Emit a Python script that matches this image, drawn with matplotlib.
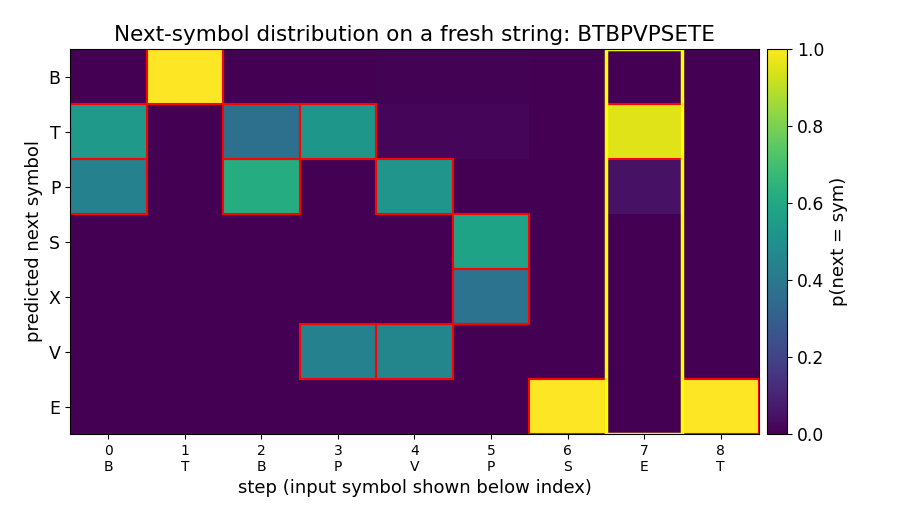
import numpy as np
import matplotlib.pyplot as plt
from matplotlib.patches import Rectangle

symbols = ['B', 'T', 'P', 'S', 'X', 'V', 'E']
inputs = ['B', 'T', 'B', 'P', 'V', 'P', 'S', 'E', 'T']
steps = np.arange(len(inputs))

# probabilidades p(next = sym), filas = simbolos, columnas = pasos
p_B = [0.00, 1.00, 0.00, 0.00, 0.005, 0.005, 0.00, 0.00, 0.00]
p_T = [0.54, 0.00, 0.37, 0.53, 0.015, 0.015, 0.00, 0.95, 0.00]
p_P = [0.44, 0.00, 0.62, 0.00, 0.52, 0.00, 0.00, 0.05, 0.00]
p_S = [0.00, 0.00, 0.00, 0.00, 0.00, 0.58, 0.00, 0.00, 0.00]
p_X = [0.00, 0.00, 0.00, 0.00, 0.00, 0.38, 0.00, 0.00, 0.00]
p_V = [0.00, 0.00, 0.00, 0.44, 0.46, 0.00, 0.00, 0.00, 0.00]
p_E = [0.00, 0.00, 0.00, 0.00, 0.00, 0.00, 1.00, 0.00, 1.00]
probs = np.array([p_B, p_T, p_P, p_S, p_X, p_V, p_E])

# siguientes simbolos legales (recuadro rojo) por paso
legal = [['T', 'P'], ['B'], ['T', 'P'], ['T', 'V'], ['P', 'V'],
         ['S', 'X'], ['E'], ['T'], ['E']]
highlight_step = 7

fig = plt.figure(figsize=(9.1, 5.2), dpi=100)
ax = fig.add_axes([70/910, 86/520, 689/910, 385/520])
cax = fig.add_axes([767/910, 86/520, 20/910, 385/520])

im = ax.imshow(probs, cmap='viridis', vmin=0, vmax=1, aspect='auto',
               interpolation='nearest')

for j, syms in enumerate(legal):
    for s in syms:
        i = symbols.index(s)
        ax.add_patch(Rectangle((j - 0.5, i - 0.5), 1, 1, fill=False,
                               edgecolor='red', linewidth=1.5))

ax.add_patch(Rectangle((highlight_step - 0.5, -0.5), 1, len(symbols),
                       fill=False, edgecolor='yellow', linewidth=2.5))

ax.set_yticks(np.arange(len(symbols)))
ax.set_yticklabels(symbols, fontsize=12.5)
ax.set_xticks(steps)
ax.set_xticklabels([f'{k}\n{s}' for k, s in zip(steps, inputs)], fontsize=10)
ax.set_xlabel('step (input symbol shown below index)', fontsize=13)
ax.set_ylabel('predicted next symbol', fontsize=13)
ax.set_title('Next-symbol distribution on a fresh string: BTBPVPSETE', fontsize=15.5)

cb = fig.colorbar(im, cax=cax)
cb.set_label('p(next = sym)', fontsize=13)
cb.ax.tick_params(labelsize=12.3)

plt.savefig('out.png', dpi=100)
